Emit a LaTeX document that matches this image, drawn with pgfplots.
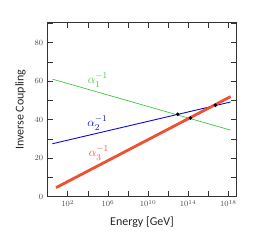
\documentclass[border=0pt]{standalone}
\usepackage{pgfplots}
\pgfplotsset{compat=1.18}
\usepackage{fontspec}
\setmainfont{Carlito}
\definecolor{cgreen}{RGB}{60,200,60}
\definecolor{cblue}{RGB}{10,10,210}
\definecolor{cred}{RGB}{240,80,50}
\begin{document}
\begin{tikzpicture}
\path[use as bounding box] (-47.7pt,-52.3pt) rectangle (213.3pt,196.7pt);
\begin{axis}[
  scale only axis, width=188.6pt, height=174pt,
  xmin=0, xmax=18.8, ymin=0, ymax=90.4,
  xtick={2,6,10,14,18},
  xticklabels={$10^{2}$,$10^{6}$,$10^{10}$,$10^{14}$,$10^{18}$},
  minor xtick={4,8,12,16},
  ytick={0,20,40,60,80},
  minor ytick={10,30,50,70,90},
  tick align=inside,
  major tick length=5.5pt, minor tick length=5.5pt,
  tick style={black!80, line width=0.6pt},
  axis line style={black!80, line width=0.8pt},
  tick label style={font=\fontsize{8.5}{9}\selectfont, black!70},
  yticklabel style={xshift=-1pt},
  xlabel={Energy [GeV]}, ylabel={Inverse Coupling},
  label style={font=\fontsize{12}{14}\selectfont, black!85},
  xlabel style={yshift=-3pt},
  ylabel style={yshift=2pt},
]
\addplot[cgreen, line width=0.7pt] coordinates {(0.46,61.1) (18.23,34.6)};
\addplot[cblue, line width=0.9pt] coordinates {(0.46,27.5) (18.23,49.2)};
\addplot[cred, line width=2.8pt] coordinates {(0.83,4.7) (18.23,52.0)};
\addplot[only marks, mark=*, mark size=1.6pt, black] coordinates {(12.96,42.8) (14.23,40.9) (16.73,47.5)};
\node[cgreen, font=\fontsize{13}{15}\selectfont] at (axis cs:5.0,60.6) {$\alpha_1^{-1}$};
\node[cblue, font=\fontsize{13}{15}\selectfont] at (axis cs:4.95,38.3) {$\alpha_2^{-1}$};
\node[cred, font=\fontsize{13}{15}\selectfont] at (axis cs:5.1,22.7) {$\alpha_3^{-1}$};
\end{axis}
\end{tikzpicture}
\end{document}
